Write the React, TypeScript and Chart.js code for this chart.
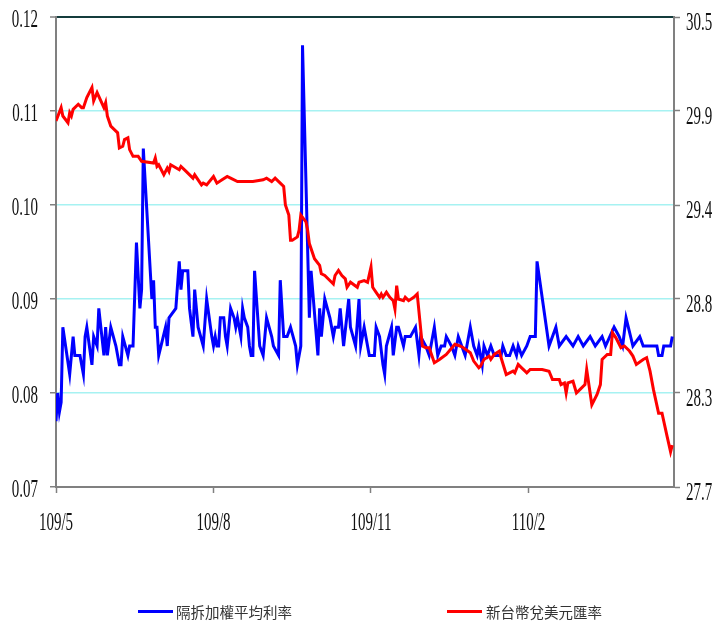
import React, { useEffect, useRef } from "react";
import { Chart, registerables } from "chart.js";

Chart.register(...registerables);

// Days counted from 109/5/1 (2020-05-01)
const rateDays = [
  0, 1, 2, 3, 4, 8, 10, 11, 14, 16,
  17, 18, 21, 22, 24, 25, 28, 29, 30, 32,
  35, 37, 38, 39, 42, 43, 45, 47, 49, 50,
  51, 56, 57, 58, 59, 60, 64, 65, 66, 70,
  72, 73, 74, 77, 78, 80, 81, 83, 86, 88,
  91, 92, 93, 94, 95, 96, 98, 99, 100, 102,
  104, 105, 106, 108, 109, 110, 112, 113, 114, 115,
  116, 119, 121, 122, 123, 126, 127, 130, 131, 133,
  135, 137, 140, 141, 143, 144, 148, 149, 153, 154,
  155, 157, 160, 162, 163, 165, 166, 168, 171, 172,
  175, 177, 178, 180, 183, 186, 187, 189, 191, 192,
  193, 196, 197, 199, 200, 203, 204, 207, 210, 212,
  213, 216, 218, 221, 223, 225, 227, 228, 231, 233,
  235, 237, 239, 242, 244, 246, 247, 249, 250, 252,
  254, 256, 260, 261, 263, 265, 267, 269, 270, 272,
  275, 277, 280, 281, 288, 292, 294, 298, 302, 305,
  308, 312, 315, 319, 321, 326, 329, 331, 333, 337,
  341, 343, 351, 352, 354, 355, 359, 360,
];

// 隔拆加權平均利率 (%)
const rateValues = [
  0.077, 0.080, 0.078, 0.079, 0.087, 0.082, 0.086, 0.084, 0.084, 0.082,
  0.086, 0.087, 0.083, 0.086, 0.085, 0.089, 0.084, 0.087, 0.084, 0.087,
  0.085, 0.083, 0.083, 0.086, 0.084, 0.085, 0.085, 0.096, 0.089, 0.091,
  0.106, 0.090, 0.092, 0.087, 0.087, 0.084, 0.087, 0.085, 0.088, 0.089,
  0.094, 0.091, 0.093, 0.093, 0.089, 0.086, 0.091, 0.087, 0.085, 0.090,
  0.086, 0.085, 0.086, 0.085, 0.085, 0.088, 0.088, 0.086, 0.085, 0.089,
  0.088, 0.087, 0.088, 0.086, 0.089, 0.088, 0.087, 0.085, 0.084, 0.084,
  0.093, 0.085, 0.084, 0.086, 0.088, 0.086, 0.085, 0.084, 0.092, 0.086,
  0.086, 0.087, 0.085, 0.083, 0.085, 0.117, 0.088, 0.093, 0.084, 0.089,
  0.086, 0.090, 0.088, 0.086, 0.087, 0.087, 0.089, 0.085, 0.090, 0.087,
  0.085, 0.090, 0.085, 0.087, 0.084, 0.084, 0.087, 0.086, 0.083, 0.082,
  0.085, 0.087, 0.084, 0.087, 0.087, 0.085, 0.086, 0.086, 0.087, 0.084,
  0.086, 0.085, 0.084, 0.087, 0.084, 0.085, 0.085, 0.086, 0.085, 0.084,
  0.086, 0.085, 0.084, 0.087, 0.085, 0.084, 0.085, 0.083, 0.085, 0.084,
  0.085, 0.084, 0.084, 0.085, 0.084, 0.084, 0.085, 0.084, 0.085, 0.084,
  0.085, 0.086, 0.086, 0.094, 0.085, 0.087, 0.085, 0.086, 0.085, 0.086,
  0.085, 0.086, 0.085, 0.086, 0.085, 0.087, 0.086, 0.085, 0.088, 0.085,
  0.086, 0.085, 0.085, 0.084, 0.084, 0.085, 0.085, 0.086,
];

const fxDays = [
  0, 3, 4, 7, 8, 9, 10, 13, 15, 16,
  18, 21, 22, 24, 28, 29, 30, 32, 35, 36,
  37, 39, 40, 42, 43, 45, 48, 50, 57, 58,
  59, 60, 63, 65, 66, 67, 72, 73, 76, 80,
  81, 85, 86, 88, 92, 94, 97, 100, 102, 106,
  109, 111, 115, 121, 123, 126, 128, 131, 133, 134,
  136, 137, 138, 141, 142, 143, 146, 147, 148, 151,
  154, 155, 157, 161, 162, 163, 165, 167, 169, 170,
  172, 176, 177, 180, 182, 184, 185, 187, 189, 190,
  191, 193, 195, 197, 198, 199, 200, 203, 204, 206,
  209, 211, 214, 216, 218, 221, 224, 228, 233, 236,
  238, 242, 244, 247, 248, 250, 253, 254, 256, 259,
  260, 263, 267, 268, 270, 272, 274, 275, 277, 281,
  284, 288, 290, 294, 295, 297, 298, 299, 302, 304,
  306, 309, 310, 313, 316, 318, 319, 322, 324, 325,
  327, 330, 332, 335, 337, 339, 343, 345, 347, 349,
  352, 354, 357, 359, 360,
];

// 新台幣兌美元匯率
const fxValues = [
  29.88, 29.96, 29.91, 29.87, 29.93, 29.91, 29.95, 29.98, 29.96, 29.96,
  30.02, 30.08, 30.00, 30.05, 29.96, 29.99, 29.91, 29.85, 29.82, 29.81,
  29.72, 29.73, 29.77, 29.78, 29.71, 29.67, 29.67, 29.64, 29.63, 29.66,
  29.61, 29.62, 29.56, 29.60, 29.58, 29.62, 29.59, 29.61, 29.58, 29.54,
  29.56, 29.50, 29.51, 29.50, 29.55, 29.51, 29.53, 29.55, 29.54, 29.52,
  29.52, 29.52, 29.52, 29.53, 29.54, 29.52, 29.54, 29.51, 29.49, 29.38,
  29.32, 29.17, 29.17, 29.19, 29.23, 29.32, 29.28, 29.23, 29.15, 29.06,
  29.02, 28.97, 28.96, 28.92, 28.91, 28.96, 28.99, 28.96, 28.94, 28.89,
  28.92, 28.89, 28.92, 28.93, 28.92, 29.01, 28.89, 28.86, 28.83, 28.85,
  28.83, 28.86, 28.83, 28.81, 28.76, 28.90, 28.82, 28.81, 28.83, 28.81,
  28.83, 28.85, 28.54, 28.53, 28.53, 28.44, 28.46, 28.49, 28.55, 28.54,
  28.53, 28.50, 28.45, 28.41, 28.42, 28.46, 28.48, 28.46, 28.49, 28.51,
  28.47, 28.37, 28.39, 28.38, 28.43, 28.41, 28.39, 28.38, 28.40, 28.40,
  28.40, 28.39, 28.34, 28.34, 28.31, 28.32, 28.26, 28.32, 28.33, 28.26,
  28.28, 28.31, 28.40, 28.19, 28.25, 28.31, 28.46, 28.49, 28.49, 28.62,
  28.59, 28.53, 28.54, 28.51, 28.48, 28.43, 28.46, 28.47, 28.39, 28.28,
  28.14, 28.14, 28.00, 27.91, 27.95,
];

const xTickDays = [0, 92, 184, 276];
const xTickLabels = ["109/5", "109/8", "109/11", "110/2"];
const rateTicks = [0.07, 0.08, 0.09, 0.1, 0.11, 0.12];
const fxTicks = [27.7, 28.26, 28.82, 29.38, 29.94, 30.5];

const rateLabel = "隔拆加權平均利率";
const fxLabel = "新台幣兌美元匯率";

const AXIS_GRAY = "#808080";
const GRID_CYAN = "#a6f2f2";
const TEXT = "#111";
const LABEL_FONT = "25px 'Liberation Serif', 'Times New Roman', serif";
const LABEL_SQUEEZE = 0.6;

// Tick labels are set in a tall, narrow serif face, so they are drawn here
// with a horizontal squeeze instead of through the scales' own label pass.
const narrowLabels = {
  id: "narrowLabels",
  afterDraw(chart: any) {
    const { ctx, scales, chartArea } = chart;
    const put = (text: string, x: number, y: number, align: CanvasTextAlign) => {
      ctx.save();
      ctx.font = LABEL_FONT;
      ctx.fillStyle = TEXT;
      ctx.textAlign = align;
      ctx.textBaseline = "alphabetic";
      ctx.translate(x, y);
      ctx.scale(LABEL_SQUEEZE, 1);
      ctx.fillText(text, 0, 0);
      ctx.restore();
    };
    rateTicks.forEach((v) => {
      put(v.toFixed(2), chartArea.left - 18, scales.yRate.getPixelForValue(v) + 9.5, "right");
    });
    fxTicks.forEach((v) => {
      put(v.toFixed(1), chartArea.right + 12, scales.yFx.getPixelForValue(v) + 13, "left");
    });
    xTickDays.forEach((d, i) => {
      put(xTickLabels[i], scales.x.getPixelForValue(d), chartArea.bottom + 43, "center");
    });
  },
};

export default function App() {
  const canvasRef = useRef<HTMLCanvasElement | null>(null);

  useEffect(() => {
    const canvas = canvasRef.current;
    if (!canvas) return;

    const ratePoints = rateDays.map((d, i) => ({ x: d, y: rateValues[i] }));
    const fxPoints = fxDays.map((d, i) => ({ x: d, y: fxValues[i] }));

    const chart = new Chart(canvas, {
      type: "line",
      data: {
        datasets: [
          {
            label: rateLabel,
            data: ratePoints,
            yAxisID: "yRate",
            borderColor: "#0000ff",
            borderWidth: 3,
            pointRadius: 0,
            tension: 0,
            order: 1,
          },
          {
            label: fxLabel,
            data: fxPoints,
            yAxisID: "yFx",
            borderColor: "#ff0000",
            borderWidth: 3,
            pointRadius: 0,
            tension: 0,
            order: 0,
          },
        ],
      },
      options: {
        responsive: false,
        animation: false,
        devicePixelRatio: 1,
        layout: { padding: { top: 17, bottom: 86, left: 0, right: 0 } },
        plugins: { legend: { display: false }, tooltip: { enabled: false } },
        scales: {
          x: {
            type: "linear",
            min: 0,
            max: 361,
            afterBuildTicks: (scale: any) => {
              scale.ticks = xTickDays.map((v) => ({ value: v }));
            },
            afterFit: (scale: any) => {
              scale.height = 50;
            },
            ticks: { display: false },
            grid: {
              drawOnChartArea: false,
              tickLength: 6,
              tickColor: AXIS_GRAY,
              tickWidth: 1.5,
            },
            border: { color: AXIS_GRAY, width: 2 },
          },
          yRate: {
            type: "linear",
            position: "left",
            min: 0.07,
            max: 0.12,
            afterBuildTicks: (scale: any) => {
              scale.ticks = rateTicks.map((v) => ({ value: v }));
            },
            afterFit: (scale: any) => {
              scale.width = 56;
            },
            ticks: { display: false },
            grid: {
              color: (ctx: any) => {
                const v = ctx.tick ? ctx.tick.value : 0;
                if (Math.abs(v - 0.12) < 1e-9) return "#143c3c";
                if (Math.abs(v - 0.07) < 1e-9) return AXIS_GRAY;
                return GRID_CYAN;
              },
              lineWidth: (ctx: any) => {
                const v = ctx.tick ? ctx.tick.value : 0;
                return Math.abs(v - 0.12) < 1e-9 ? 2 : 1.5;
              },
              tickLength: 6,
              tickColor: AXIS_GRAY,
              tickWidth: 1.5,
            },
            border: { color: AXIS_GRAY, width: 2 },
          },
          yFx: {
            type: "linear",
            position: "right",
            min: 27.7,
            max: 30.5,
            afterBuildTicks: (scale: any) => {
              scale.ticks = fxTicks.map((v) => ({ value: v }));
            },
            afterFit: (scale: any) => {
              scale.width = 40;
            },
            ticks: { display: false },
            grid: {
              drawOnChartArea: false,
              tickLength: 6,
              tickColor: AXIS_GRAY,
              tickWidth: 1.5,
            },
            border: { color: AXIS_GRAY, width: 2 },
          },
        },
      },
      plugins: [narrowLabels],
    });

    return () => chart.destroy();
  }, []);

  const legendText: React.CSSProperties = {
    position: "absolute",
    top: 601,
    fontFamily: "'Noto Sans CJK TC', 'Noto Sans', sans-serif",
    fontSize: 14.5,
    lineHeight: "22px",
    color: "#333",
    whiteSpace: "nowrap",
  };
  const legendLine: React.CSSProperties = {
    position: "absolute",
    top: 610,
    height: 3,
  };

  return (
    <div style={{ position: "absolute", left: 0, top: 0, width: 714, height: 623, background: "#fff", overflow: "hidden" }}>
      <canvas ref={canvasRef} width={714} height={623} style={{ display: "block", width: 714, height: 623 }} />
      <div style={{ ...legendLine, left: 138, width: 35, background: "#0000ff" }} />
      <div style={{ ...legendText, left: 176 }}>{rateLabel}</div>
      <div style={{ ...legendLine, left: 447, width: 35, background: "#ff0000" }} />
      <div style={{ ...legendText, left: 486 }}>{fxLabel}</div>
    </div>
  );
}
